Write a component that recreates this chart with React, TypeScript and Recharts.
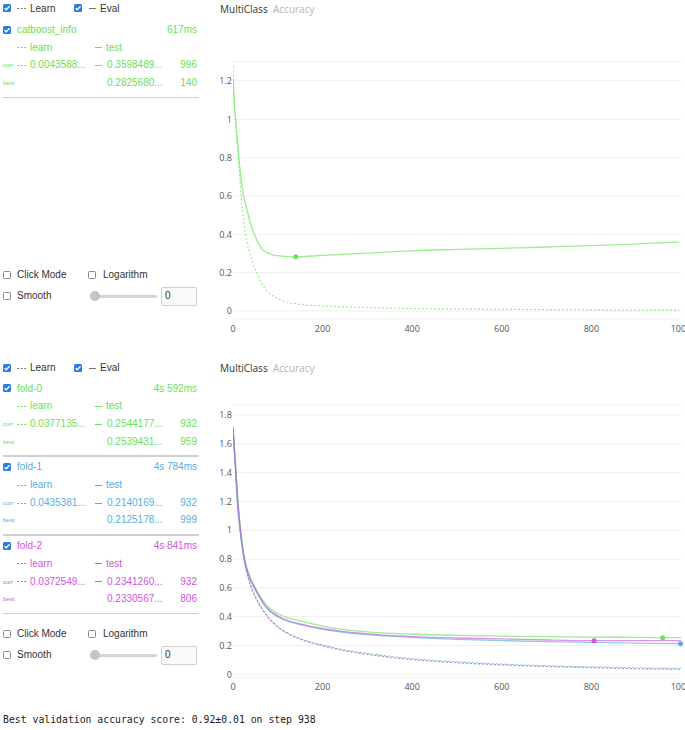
import { LineChart, Line, XAxis, YAxis, CartesianGrid, ReferenceDot } from "recharts";

// ---- data ----
const xTicks = [0, 200, 400, 600, 800, 1000];
const topYTicks = [0, 0.2, 0.4, 0.6, 0.8, 1, 1.2];
const bottomYTicks = [0, 0.2, 0.4, 0.6, 0.8, 1, 1.2, 1.4, 1.6, 1.8];

// single run (catboost_info)
const runTestIters = [0, 3, 6, 13, 20, 30, 40, 48, 57, 71, 94, 120, 140, 200, 300, 400, 500, 600, 700, 800, 900, 996];
const runTestValues = [1.21, 1.08, 1.0, 0.8, 0.65, 0.54, 0.45, 0.4, 0.35, 0.31, 0.29, 0.284, 0.2826, 0.29, 0.302, 0.314, 0.321, 0.327, 0.334, 0.341, 0.35, 0.3598];
const runLearnIters = [0, 5, 12, 18, 28, 40, 53, 65, 79, 100, 116, 150, 205, 300, 400, 600, 800, 996];
const runLearnValues = [1.276, 1.0, 0.8, 0.6, 0.4, 0.28, 0.2, 0.14, 0.098, 0.065, 0.049, 0.035, 0.026, 0.018, 0.013, 0.009, 0.006, 0.0044];
const runBestIter = 140;
const runBestValue = 0.2825680;

// cross-validation folds
const foldIters = [0, 5, 10, 17, 26, 35, 50, 75, 100, 125, 150, 200, 250, 300, 400, 500, 600, 700, 800, 900, 1000];
const fold0Test = [1.72, 1.49, 1.25, 1.0, 0.8, 0.7, 0.6, 0.48, 0.42, 0.39, 0.37, 0.335, 0.31, 0.295, 0.278, 0.27, 0.265, 0.261, 0.258, 0.256, 0.2542];
const fold1Test = [1.7, 1.47, 1.22, 0.98, 0.785, 0.685, 0.585, 0.46, 0.4, 0.365, 0.345, 0.312, 0.29, 0.275, 0.256, 0.243, 0.234, 0.227, 0.221, 0.216, 0.2125];
const fold2Test = [1.71, 1.48, 1.23, 0.99, 0.79, 0.69, 0.59, 0.465, 0.405, 0.37, 0.35, 0.318, 0.296, 0.281, 0.262, 0.252, 0.246, 0.238, 0.2333, 0.2338, 0.2342];
const fold0Learn = [1.72, 1.44, 1.18, 0.97, 0.78, 0.66, 0.54, 0.41, 0.33, 0.28, 0.245, 0.2, 0.165, 0.14, 0.104, 0.081, 0.066, 0.055, 0.047, 0.039, 0.0355];
const fold1Learn = [1.71, 1.43, 1.17, 0.96, 0.775, 0.655, 0.535, 0.41, 0.332, 0.283, 0.248, 0.203, 0.169, 0.145, 0.109, 0.087, 0.071, 0.06, 0.052, 0.046, 0.041];
const fold2Learn = [1.72, 1.44, 1.18, 0.97, 0.78, 0.66, 0.54, 0.408, 0.328, 0.278, 0.243, 0.198, 0.163, 0.138, 0.102, 0.08, 0.065, 0.054, 0.046, 0.039, 0.035];

const foldNames = ["fold-0", "fold-1", "fold-2"];
const foldTimes = ["4s 592ms", "4s 784ms", "4s 841ms"];
const foldCurrLearn = ["0.0377135...", "0.0435381...", "0.0372549..."];
const foldCurrTest = ["0.2544177...", "0.2140169...", "0.2341260..."];
const foldCurrIter = [932, 932, 932];
const foldBestTest = [0.2539431, 0.2125178, 0.2330567];
const foldBestIter = [959, 999, 806];

const COLORS = ["#68E256", "#56AEE2", "#CF56E2"];
const PANEL_FONT = "'Liberation Sans', Arial, sans-serif";
const CHART_FONT = "'Open Sans', sans-serif";

const zip = (iters: number[], values: number[]) => iters.map((iter, i) => ({ iter, value: values[i] }));

// ---- small pieces ----
function Txt({ x, cy, children, color = "#333", size = 10, align = "left", font = PANEL_FONT }: any) {
  const style: any = {
    position: "absolute",
    top: cy - 6.7,
    lineHeight: "14px",
    fontSize: size,
    fontFamily: font,
    color,
    whiteSpace: "nowrap",
  };
  if (align === "right") {
    style.left = x - 120;
    style.width = 120;
    style.textAlign = "right";
  } else {
    style.left = x;
  }
  return <span style={style}>{children}</span>;
}

function Box({ x, cy, checked }: any) {
  return (
    <div
      style={{
        position: "absolute",
        left: x,
        top: cy - 4,
        width: 8,
        height: 8,
        borderRadius: 1.5,
        boxSizing: "border-box",
        background: checked ? "#2a7de1" : "#fff",
        border: checked ? "none" : "1px solid #8a8a8a",
      }}
    >
      {checked && (
        <svg width={8} height={8} style={{ position: "absolute", left: 0, top: 0 }}>
          <path d="M1.6 4.2 L3.3 5.8 L6.5 2.3" stroke="#fff" strokeWidth={1.3} fill="none" />
        </svg>
      )}
    </div>
  );
}

function Pic({ x, cy, dashed, color, width = 10 }: any) {
  return (
    <svg width={width} height={3} style={{ position: "absolute", left: x, top: cy - 1 }}>
      <line x1={0} y1={1.5} x2={width} y2={1.5} stroke={color} strokeWidth={1} strokeDasharray={dashed ? "2 1.6" : undefined} />
    </svg>
  );
}

function Rule({ y }: any) {
  return <div style={{ position: "absolute", left: 3, top: y - 1, width: 196, height: 1.5, background: "#cfcfcf" }} />;
}

function RunBlock({ top, name, color, time, currLearn, currTest, currIter, bestTest, bestIter }: any) {
  return (
    <>
      <Box x={3} cy={top} checked />
      <Txt x={17} cy={top} color={color}>{name}</Txt>
      <Txt x={197} cy={top} color={color} align="right">{time}</Txt>
      <Pic x={17} cy={top + 17.7} dashed color={color} />
      <Txt x={30} cy={top + 17.7} color={color}>learn</Txt>
      <Pic x={95} cy={top + 17.7} color={color} width={7} />
      <Txt x={106} cy={top + 17.7} color={color}>test</Txt>
      <Txt x={3} cy={top + 35.5} color={color} size={6}>curr</Txt>
      <Pic x={17} cy={top + 35.5} dashed color={color} />
      <Txt x={30} cy={top + 35.5} color={color}>{currLearn}</Txt>
      <Pic x={95} cy={top + 35.5} color={color} width={7} />
      <Txt x={107} cy={top + 35.5} color={color}>{currTest}</Txt>
      <Txt x={197} cy={top + 35.5} color={color} align="right">{currIter}</Txt>
      <Txt x={3} cy={top + 53} color={color} size={6}>best</Txt>
      <Txt x={107} cy={top + 53} color={color}>{bestTest.toFixed(7) + "..."}</Txt>
      <Txt x={197} cy={top + 53} color={color} align="right">{bestIter}</Txt>
      <Rule y={top + 68} />
    </>
  );
}

function Header({ top }: any) {
  return (
    <>
      <Box x={3} cy={top} checked />
      <Pic x={17} cy={top} dashed color="#777" />
      <Txt x={30} cy={top}>Learn</Txt>
      <Box x={74} cy={top} checked />
      <Pic x={89} cy={top} color="#777" width={7} />
      <Txt x={100} cy={top}>Eval</Txt>
      <Txt x={220} cy={top} size={10} font={CHART_FONT} color="#333">MultiClass</Txt>
      <Txt x={273} cy={top} size={10} font={CHART_FONT} color="#b5b5b5">Accuracy</Txt>
    </>
  );
}

function Controls({ top }: any) {
  return (
    <>
      <Box x={3} cy={top} />
      <Txt x={17} cy={top}>Click Mode</Txt>
      <Box x={88} cy={top} />
      <Txt x={103} cy={top}>Logarithm</Txt>
      <Box x={3} cy={top + 21} />
      <Txt x={17} cy={top + 21}>Smooth</Txt>
      <div style={{ position: "absolute", left: 90, top: top + 19.5, width: 67, height: 3, borderRadius: 2, background: "#d4d4d4" }} />
      <div style={{ position: "absolute", left: 89.5, top: top + 16, width: 10, height: 10, borderRadius: 5, background: "#c4c4c4" }} />
      <div style={{ position: "absolute", left: 161, top: top + 11.5, width: 36, height: 19, boxSizing: "border-box", border: "1px solid #d0d0d0", borderRadius: 2, background: "#fafafa" }} />
      <Txt x={165} cy={top + 21}>0</Txt>
    </>
  );
}

const tickStyle = { fontSize: 9, fill: "#555", fontFamily: CHART_FONT };

function Plot({ top, height, marginTop, domain, yTicks, children }: any) {
  return (
    <div style={{ position: "absolute", left: 200, top }}>
      <LineChart width={500} height={height} margin={{ top: marginTop, right: 19, bottom: 0, left: 0 }}>
        <CartesianGrid vertical={false} stroke="#efefef" />
        <XAxis
          dataKey="iter"
          type="number"
          domain={[0, 1000]}
          ticks={xTicks}
          axisLine={false}
          tickLine={false}
          tickSize={0}
          tickMargin={7}
          height={30}
          tick={tickStyle}
          interval={0}
          allowDataOverflow
        />
        <YAxis
          type="number"
          domain={domain}
          ticks={yTicks}
          axisLine={false}
          tickLine={false}
          tickSize={0}
          tickMargin={1}
          width={33}
          tick={tickStyle}
          interval={0}
          allowDataOverflow
        />
        {children}
      </LineChart>
    </div>
  );
}

export default function App() {
  const foldTests = [fold0Test, fold1Test, fold2Test];
  const foldLearns = [fold0Learn, fold1Learn, fold2Learn];
  return (
    <div style={{ position: "absolute", left: 0, top: 0, width: 685, height: 730, overflow: "hidden", background: "#fff" }}>
      {/* single run widget */}
      <Header top={8.3} />
      <RunBlock
        top={29.5}
        name="catboost_info"
        color={COLORS[0]}
        time="617ms"
        currLearn="0.0043588..."
        currTest="0.3598489..."
        currIter={996}
        bestTest={runBestValue}
        bestIter={runBestIter}
      />
      <Controls top={275} />
      <Plot top={0} height={349} marginTop={62} domain={[-0.0417, 1.299]} yTicks={topYTicks}>
        <Line data={zip(runLearnIters, runLearnValues)} dataKey="value" type="monotone" stroke={COLORS[0]} strokeOpacity={0.7} strokeWidth={1.1} strokeDasharray="2 2" dot={false} isAnimationActive={false} />
        <Line data={zip(runTestIters, runTestValues)} dataKey="value" type="monotone" stroke={COLORS[0]} strokeOpacity={0.65} strokeWidth={1.3} dot={false} isAnimationActive={false} />
        <ReferenceDot x={runBestIter} y={runBestValue} r={2.5} fill={COLORS[0]} stroke="none" />
      </Plot>

      {/* cross-validation widget */}
      <Header top={367.7} />
      {foldNames.map((name, i) => (
        <RunBlock
          key={name}
          top={388.3 + i * 78.7}
          name={name}
          color={COLORS[i]}
          time={foldTimes[i]}
          currLearn={foldCurrLearn[i]}
          currTest={foldCurrTest[i]}
          currIter={foldCurrIter[i]}
          bestTest={foldBestTest[i]}
          bestIter={foldBestIter[i]}
        />
      ))}
      <Controls top={634} />
      <Plot top={355} height={352} marginTop={50} domain={[-0.0187, 1.869]} yTicks={bottomYTicks}>
        {foldNames.map((name, i) => (
          <Line key={name + "-learn"} data={zip(foldIters, foldLearns[i])} dataKey="value" type="monotone" stroke={COLORS[i]} strokeOpacity={0.7} strokeWidth={1.1} strokeDasharray="2 2" dot={false} isAnimationActive={false} />
        ))}
        {foldNames.map((name, i) => (
          <Line key={name + "-test"} data={zip(foldIters, foldTests[i])} dataKey="value" type="monotone" stroke={COLORS[i]} strokeOpacity={0.65} strokeWidth={1.3} dot={false} isAnimationActive={false} />
        ))}
        {foldNames.map((name, i) => (
          <ReferenceDot key={name + "-best"} x={foldBestIter[i]} y={foldBestTest[i]} r={2.5} fill={COLORS[i]} stroke="none" />
        ))}
      </Plot>

      <div style={{ position: "absolute", left: 3, top: 713, fontFamily: "'DejaVu Sans Mono', monospace", fontSize: 9.8, lineHeight: "14px", color: "#222", whiteSpace: "pre" }}>
        Best validation accuracy score: 0.92±0.01 on step 938
      </div>
    </div>
  );
}
